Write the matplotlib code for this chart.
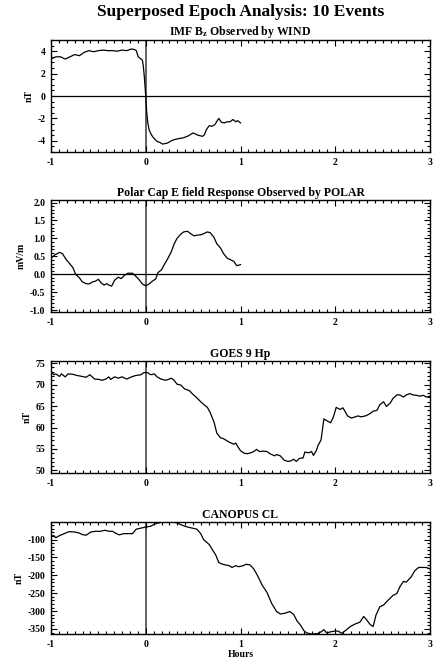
import numpy as np
import matplotlib
matplotlib.use("Agg")
import matplotlib.pyplot as plt
from matplotlib.ticker import MultipleLocator, AutoMinorLocator

plt.rcParams['font.family'] = ['Liberation Serif', 'DejaVu Serif']
plt.rcParams['font.weight'] = 'bold'
plt.rcParams['axes.unicode_minus'] = False
plt.rcParams['mathtext.fontset'] = 'custom'
plt.rcParams['mathtext.rm'] = 'Liberation Serif:bold'
plt.rcParams['mathtext.bf'] = 'Liberation Serif:bold'
plt.rcParams['mathtext.it'] = 'Liberation Serif:bold'

# ---------------- data ----------------
title = "Superposed Epoch Analysis: 10 Events"
panel_titles = ["IMF B$_\\mathrm{z}$ Observed by WIND",
                "Polar Cap E field Response Observed by POLAR",
                "GOES 9 Hp",
                "CANOPUS CL"]
ylabels = ["nT", "mV/m", "nT", "nT"]
xticks = [-1, 0, 1, 2, 3]

bz_t = [-1.0, -0.95, -0.9, -0.85, -0.8, -0.75, -0.7, -0.65, -0.6, -0.55, -0.5, -0.45,
        -0.4, -0.35, -0.3, -0.25, -0.2, -0.15, -0.12, -0.1, -0.08, -0.05, -0.035, -0.025,
        -0.015, 0.0, 0.01, 0.02, 0.035, 0.05, 0.07, 0.1, 0.12, 0.15, 0.18, 0.2, 0.23, 0.27,
        0.3, 0.35, 0.39, 0.44, 0.5, 0.55, 0.6, 0.62, 0.64, 0.67, 0.7, 0.73, 0.77, 0.8,
        0.83, 0.86, 0.89, 0.92, 0.95, 0.97, 1.0]
bz_v = [3.3, 3.5, 3.5, 3.3, 3.5, 3.7, 3.6, 3.9, 4.05, 3.95, 4.05, 4.1,
        4.05, 4.05, 4.0, 4.1, 4.05, 4.2, 4.15, 4.05, 3.5, 3.3, 3.2, 2.6,
        1.7, 0.0, -1.4, -2.3, -3.0, -3.3, -3.6, -3.9, -4.05, -4.15, -4.3, -4.25, -4.2, -4.0,
        -3.9, -3.8, -3.75, -3.6, -3.3, -3.5, -3.6, -3.45, -3.0, -2.65, -2.7, -2.55, -2.0, -2.35,
        -2.4, -2.3, -2.3, -2.1, -2.3, -2.2, -2.4]

ef_t = [-1.0, -0.96, -0.91, -0.88, -0.84, -0.81, -0.77, -0.74, -0.70, -0.67, -0.63, -0.60,
        -0.56, -0.53, -0.5, -0.47, -0.44, -0.41, -0.39, -0.36, -0.33, -0.29, -0.26, -0.22,
        -0.19, -0.14, -0.11, -0.07, -0.035, 0.0, 0.035, 0.07, 0.105, 0.13, 0.165, 0.2, 0.235,
        0.27, 0.3, 0.33, 0.37, 0.4, 0.44, 0.47, 0.51, 0.54, 0.58, 0.61, 0.65, 0.68, 0.72,
        0.75, 0.79, 0.82, 0.86, 0.89, 0.93, 0.96, 1.0]
ef_v = [0.45, 0.54, 0.61, 0.58, 0.41, 0.32, 0.19, 0.0, -0.1, -0.21, -0.26, -0.27,
        -0.21, -0.19, -0.14, -0.24, -0.3, -0.26, -0.3, -0.33, -0.17, -0.08, -0.12, -0.02,
        0.03, 0.03, -0.04, -0.15, -0.27, -0.32, -0.27, -0.19, -0.13, 0.05, 0.12, 0.29, 0.45,
        0.63, 0.85, 1.0, 1.12, 1.18, 1.2, 1.14, 1.07, 1.09, 1.1, 1.13, 1.18, 1.16, 1.03,
        0.85, 0.73, 0.58, 0.45, 0.41, 0.36, 0.24, 0.27]

hp_t = [-1.0, -0.97, -0.95, -0.91, -0.89, -0.85, -0.82, -0.77, -0.72, -0.67, -0.63, -0.59,
        -0.54, -0.49, -0.46, -0.42, -0.39, -0.37, -0.33, -0.29, -0.25, -0.2, -0.15, -0.11,
        -0.05, -0.02, 0.02, 0.05, 0.09, 0.12, 0.16, 0.21, 0.25, 0.27, 0.3, 0.33, 0.37, 0.41,
        0.46, 0.49, 0.54, 0.58, 0.61, 0.65, 0.68, 0.72, 0.75, 0.79, 0.82, 0.88, 0.93, 0.95,
        0.97, 1.0, 1.04, 1.07, 1.11, 1.14, 1.17, 1.2, 1.24, 1.28, 1.31, 1.36, 1.38, 1.42,
        1.46, 1.5, 1.53, 1.56, 1.59, 1.62, 1.66, 1.68, 1.72, 1.75, 1.77, 1.8, 1.82, 1.85,
        1.88, 1.91, 1.95, 1.98, 2.01, 2.05, 2.08, 2.11, 2.13, 2.17, 2.2, 2.24, 2.27, 2.3,
        2.33, 2.37, 2.4, 2.44, 2.47, 2.51, 2.54, 2.58, 2.61, 2.65, 2.68, 2.72, 2.75, 2.79,
        2.82, 2.86, 2.89, 2.93, 2.96, 3.0]
hp_v = [73.0, 72.3, 72.5, 71.9, 72.5, 71.8, 72.5, 72.4, 72.1, 71.9, 71.7, 72.3,
        71.3, 71.2, 71.0, 71.3, 71.8, 71.2, 71.8, 71.5, 71.8, 71.3, 71.8, 72.1,
        72.3, 72.8, 72.8, 72.3, 72.5, 71.8, 71.3, 71.0, 71.3, 71.5, 71.0, 70.1, 69.9, 69.0,
        68.6, 67.9, 66.9, 66.0, 65.4, 64.7, 63.5, 61.3, 58.7, 57.6, 57.4, 56.6, 56.1, 56.4,
        55.6, 54.6, 54.0, 53.9, 54.1, 54.4, 54.9, 54.4, 54.5, 54.4, 53.9, 53.4, 53.7, 53.4,
        52.4, 52.1, 52.2, 52.6, 52.1, 52.8, 52.9, 54.3, 54.1, 54.4, 53.5, 54.6, 55.9, 57.1,
        62.0, 61.6, 61.1, 62.4, 64.7, 64.2, 64.6, 63.5, 62.7, 62.2, 62.4, 62.7, 62.5, 62.6,
        62.8, 63.3, 63.8, 64.0, 65.3, 66.0, 64.9, 65.7, 66.8, 67.6, 67.6, 67.1, 67.6, 67.9,
        67.6, 67.5, 67.3, 67.5, 67.1, 67.3]

cl_t = [-1.0, -0.97, -0.95, -0.91, -0.86, -0.81, -0.75, -0.7, -0.67, -0.63, -0.58, -0.53,
        -0.48, -0.43, -0.39, -0.35, -0.32, -0.28, -0.23, -0.18, -0.14, -0.1, -0.05, 0.0,
        0.05, 0.1, 0.16, 0.23, 0.3, 0.33, 0.39, 0.44, 0.49, 0.54, 0.58, 0.61, 0.67, 0.7,
        0.74, 0.77, 0.81, 0.84, 0.88, 0.91, 0.95, 0.98, 1.03, 1.06, 1.1, 1.14, 1.18, 1.23,
        1.28, 1.33, 1.38, 1.42, 1.47, 1.52, 1.56, 1.6, 1.63, 1.67, 1.7, 1.75, 1.81, 1.85,
        1.88, 1.91, 1.95, 1.99, 2.03, 2.07, 2.1, 2.16, 2.21, 2.26, 2.3, 2.33, 2.37, 2.4,
        2.43, 2.47, 2.51, 2.56, 2.61, 2.65, 2.68, 2.72, 2.75, 2.8, 2.84, 2.88, 2.91, 2.96, 3.0]
cl_v = [-91, -89, -95, -89, -83.5, -78, -79, -82, -86, -88, -79, -77,
        -77, -74, -77, -77, -82, -87, -83.5, -83.5, -83.5, -71, -68, -65,
        -63, -56, -52, -51, -51.5, -54, -60.6, -65, -68, -71, -83.5, -100, -114, -127,
        -144, -164, -169, -171, -173, -178, -173, -176, -173, -169, -171, -182, -201, -228,
        -248, -279, -301, -308, -306, -301, -309, -329, -338, -355, -361, -364, -363, -358,
        -352, -361, -358, -356, -356, -362, -356, -343, -336, -331, -315, -324, -338, -343,
        -311, -288, -283, -269, -256, -251, -233, -217, -219, -205, -187, -178, -178, -178, -182]

series = [(bz_t, bz_v), (ef_t, ef_v), (hp_t, hp_v), (cl_t, cl_v)]
ylims = [(-5, 5), (-1.05, 2.07), (49.4, 75.5), (min(cl_v), max(cl_v))]
ymajor = [2, 0.5, 5, 50]
yminor_n = [4, 5, 5, 5]
yfmt = ["%d", "%.1f", "%d", "%d"]
zero_lines = [True, True, False, False]

# ---------------- figure ----------------
fig = plt.figure(figsize=(4.34, 6.6), dpi=100)
W, H = 434.0, 660.0
left, right = 51, 430
tops = [40, 200, 361, 522]
height = 112

fig.text(0.5 * (left + right) / W, 1 - 12 / H, title, ha='center', va='center',
         fontsize=12.5, fontweight='bold')

for i, ((t, v), ttl, yl) in enumerate(zip(series, panel_titles, ylabels)):
    ax = fig.add_axes([left / W, 1 - (tops[i] + height) / H, (right - left) / W, height / H])
    ax.plot(t, v, color='black', lw=0.9)
    ax.set_xlim(-1, 3)
    ax.set_ylim(*ylims[i])
    ax.axvline(0, color='#555555', lw=1.3, zorder=1)
    if zero_lines[i]:
        ax.axhline(0, color='black', lw=0.9, zorder=1)
    ax.set_xticks(xticks)
    ax.xaxis.set_minor_locator(AutoMinorLocator(12))
    ax.yaxis.set_major_locator(MultipleLocator(ymajor[i]))
    ax.yaxis.set_minor_locator(AutoMinorLocator(yminor_n[i]))
    ax.yaxis.set_major_formatter(plt.FormatStrFormatter(yfmt[i]))
    ax.tick_params(which='both', direction='in', top=True, right=True, labelsize=7,
                   width=0.8, pad=4)
    ax.tick_params(which='major', length=4)
    ax.tick_params(which='minor', length=2)
    for lab in ax.get_xticklabels() + ax.get_yticklabels():
        lab.set_fontweight('bold')
    for s in ax.spines.values():
        s.set_linewidth(1.0)
    ax.set_title(ttl, fontsize=8.5, fontweight='bold', pad=3)
    ax.set_ylabel(yl, fontsize=7, fontweight='bold', labelpad=3)
    if i == 3:
        ax.set_xlabel("Hours", fontsize=7, fontweight='bold', labelpad=1)

fig.savefig("out.png", dpi=100)
